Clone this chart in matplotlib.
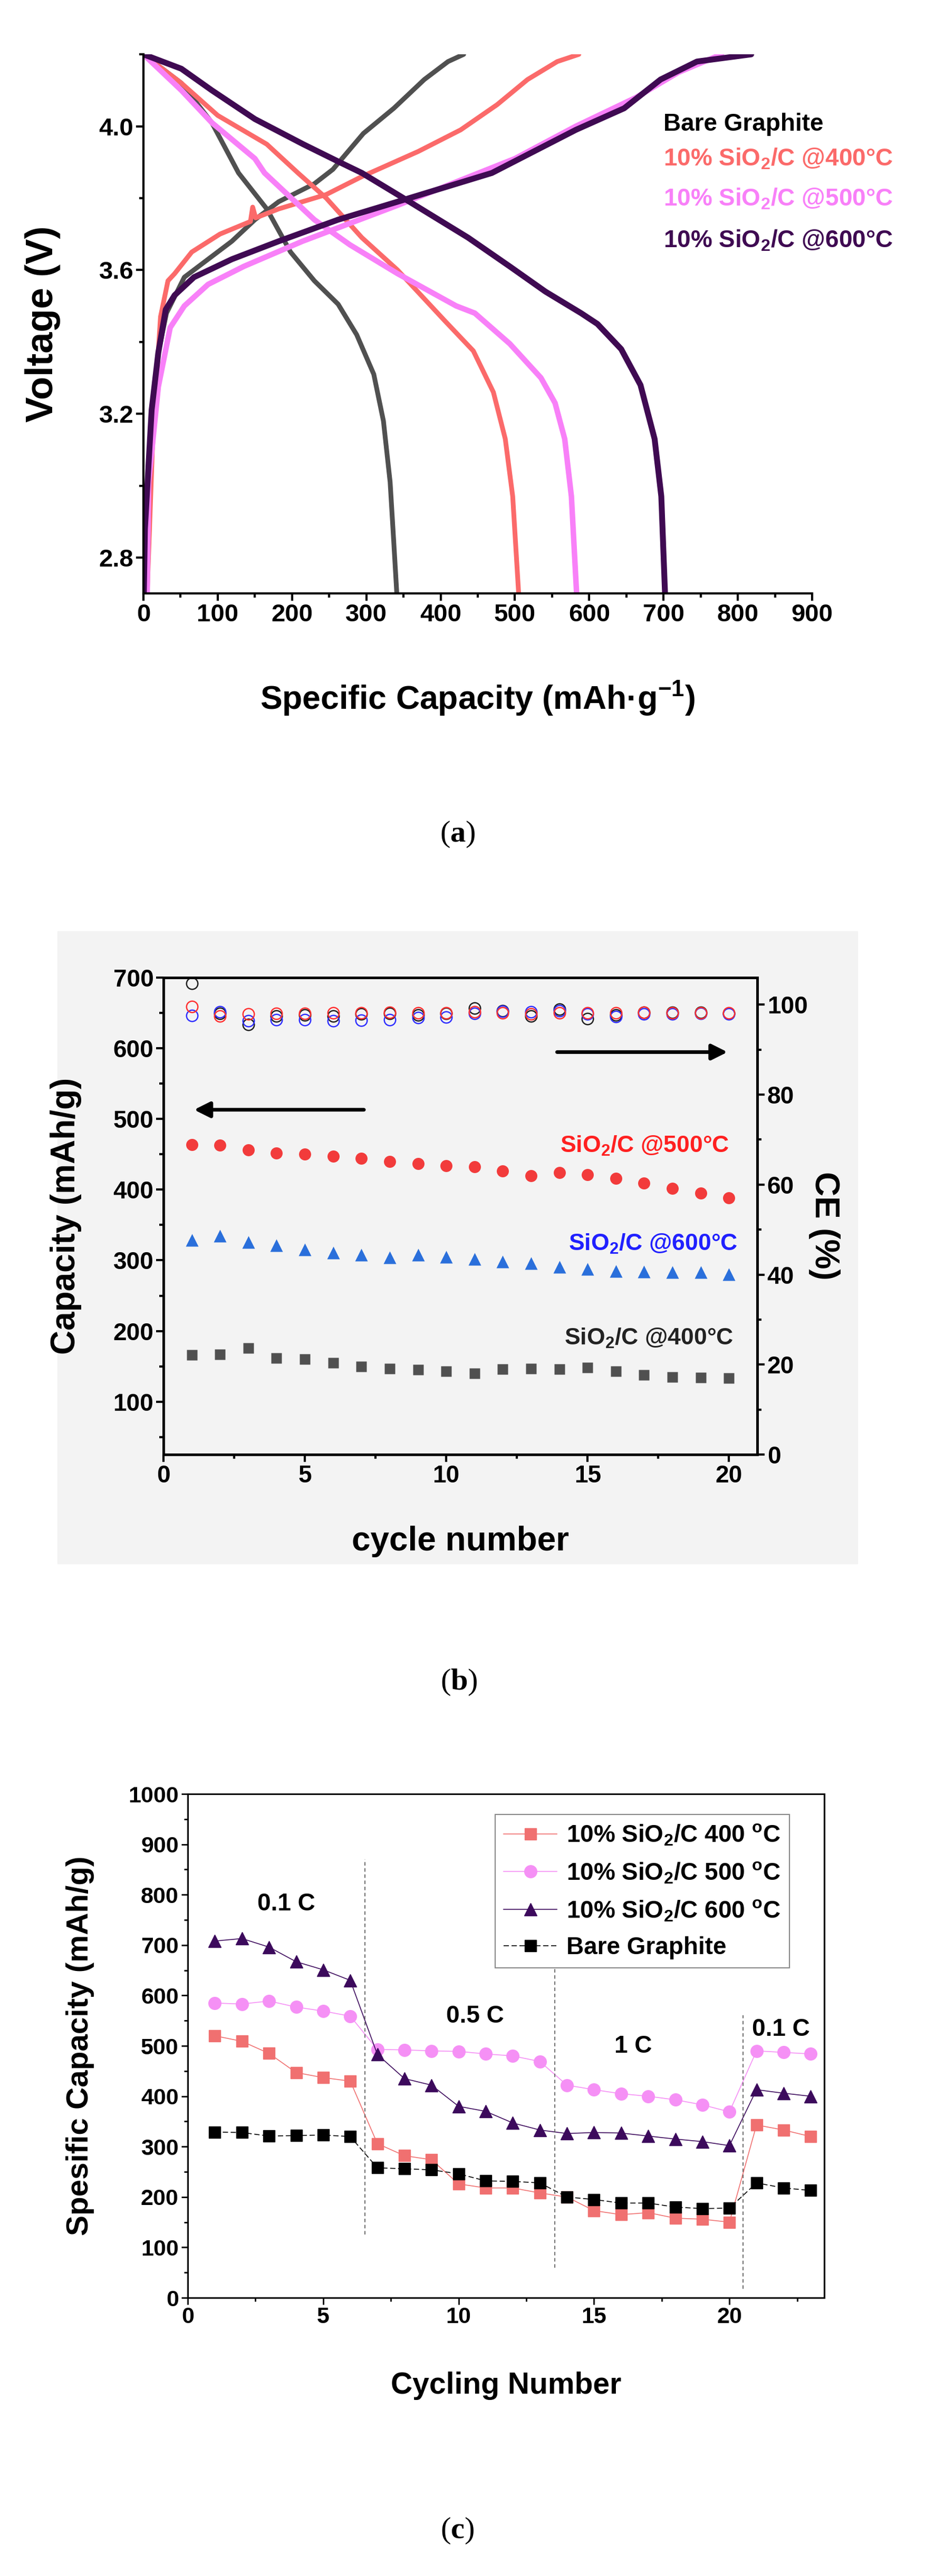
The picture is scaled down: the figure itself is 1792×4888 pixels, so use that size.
import numpy as np
import matplotlib.pyplot as plt
from matplotlib.ticker import MultipleLocator

plt.rcParams['font.family'] = ['Liberation Sans', 'DejaVu Sans']
plt.rcParams['font.weight'] = 'bold'
plt.rcParams['axes.labelweight'] = 'bold'
plt.rcParams['mathtext.default'] = 'regular'
plt.rcParams['mathtext.fontset'] = 'custom'
plt.rcParams['mathtext.bf'] = 'Liberation Serif:bold'

# ---------------- (a) charge / discharge profiles ----------------
gra_ch_cap = [3, 8, 20, 31, 55, 87, 119, 150, 182, 230, 255, 296, 337, 378, 410, 431]
gra_ch_v = [2.7, 3.1, 3.37, 3.48, 3.58, 3.63, 3.68, 3.74, 3.79, 3.84, 3.88, 3.98, 4.05, 4.13, 4.18, 4.2]
gra_dis_cap = [0, 51, 92, 128, 166, 198, 230, 262, 287, 310, 323, 332, 337, 341]
gra_dis_v = [4.2, 4.12, 4.01, 3.87, 3.77, 3.65, 3.57, 3.505, 3.42, 3.31, 3.18, 3.01, 2.84, 2.7]

s400_ch_cap = [5, 12, 17, 23, 33, 42, 65, 103, 144, 147, 151, 182, 246, 294, 370, 427, 476, 517, 557, 586]
s400_ch_v = [2.7, 3.1, 3.275, 3.47, 3.57, 3.59, 3.65, 3.70, 3.735, 3.775, 3.745, 3.77, 3.81, 3.86, 3.93,
             3.99, 4.06, 4.13, 4.18, 4.2]
s400_dis_cap = [0, 51, 100, 166, 208, 246, 294, 342, 405, 444, 471, 487, 497, 505]
s400_dis_v = [4.2, 4.12, 4.03, 3.95, 3.87, 3.80, 3.69, 3.60, 3.46, 3.375, 3.26, 3.13, 2.97, 2.7]

s500_ch_cap = [5, 7, 20, 36, 55, 87, 135, 214, 278, 342, 427, 500, 582, 663, 720, 778]
s500_ch_v = [2.7, 3.01, 3.275, 3.44, 3.50, 3.56, 3.61, 3.68, 3.73, 3.78, 3.85, 3.91, 4.0, 4.08, 4.15, 4.2]
s500_dis_cap = [0, 51, 92, 150, 163, 230, 278, 342, 421, 446, 493, 535, 554, 567, 576, 583]
s500_dis_v = [4.2, 4.10, 4.01, 3.91, 3.87, 3.74, 3.67, 3.59, 3.50, 3.48, 3.395, 3.30, 3.23, 3.13, 2.97, 2.7]

s600_ch_cap = [0.5, 2, 11, 20, 30, 42, 68, 119, 182, 262, 342, 469, 582, 647, 696, 745, 818]
s600_ch_v = [2.7, 2.88, 3.21, 3.37, 3.49, 3.53, 3.58, 3.63, 3.68, 3.74, 3.79, 3.87, 3.99, 4.05, 4.13, 4.18, 4.2]
s600_dis_cap = [0, 51, 92, 150, 215, 264, 294, 358, 437, 493, 541, 589, 611, 643, 669, 688, 697, 702]
s600_dis_v = [4.2, 4.16, 4.10, 4.02, 3.95, 3.90, 3.87, 3.79, 3.69, 3.61, 3.54, 3.48, 3.45, 3.38, 3.28, 3.13,
              2.97, 2.70]

labels_a = ['Bare Graphite', '10% SiO$_2$/C @400°C', '10% SiO$_2$/C @500°C', '10% SiO$_2$/C @600°C']
colors_a = ['#505050', '#fb6a6a', '#f880f8', '#3f0a52']
label_y_a = [4.005, 3.909, 3.798, 3.682]

# ---------------- (b) cycling + CE ----------------
cyc_b = np.arange(1, 21)
cap500_b = [464, 463, 456, 452, 450, 447, 444, 440, 437, 434, 432, 426, 420, 424, 421, 416, 409, 402, 395, 388]
cap600_b = [329, 335, 326, 321, 315, 311, 308, 304, 308, 305, 302, 298, 296, 291, 288, 285, 284, 283, 283, 280]
cap400_b = [166, 167, 176, 162, 160, 155, 150, 147, 145, 143, 140, 146, 147, 146, 148, 143, 138, 135, 134, 133]
ce_red = [99.6, 97.4, 97.9, 98.0, 98.0, 98.1, 98.2, 98.3, 98.2, 98.2, 98.4, 98.2, 97.9, 98.2, 98.2, 98.2, 98.3, 98.2, 98.1, 98.1]
ce_blue = [97.6, 98.4, 96.4, 96.6, 96.6, 96.4, 96.5, 96.6, 97.1, 97.2, 98.0, 98.5, 98.4, 98.6, 97.9, 97.3, 97.9, 97.9, 98.0, 97.9]
ce_black = [104.7, 98.0, 95.6, 97.4, 97.7, 97.4, 97.9, 98.0, 97.7, 98.0, 99.2, 98.6, 97.4, 99.0, 96.9, 97.7, 98.3, 98.3, 98.3, 98.0]

# ---------------- (c) rate capability ----------------
cyc_c = np.arange(1, 24)
rate400 = [520, 509, 485, 447, 437, 430, 306, 282, 274, 226, 218, 218, 208, 200, 173, 165, 169, 158, 156, 150, 343, 333, 320]
rate500 = [585, 583, 589, 577, 569, 559, 493, 492, 490, 489, 484, 480, 469, 422, 413, 405, 400, 393, 383, 369, 490, 487, 484]
rate600 = [708, 713, 696, 667, 651, 630, 483, 435, 422, 380, 370, 347, 333, 326, 328, 327, 321, 315, 310, 302, 413, 406, 400]
rate_gra = [329, 328, 321, 322, 323, 320, 258, 256, 254, 246, 232, 231, 228, 200, 195, 188, 188, 180, 177, 178, 228, 218, 213]
sep_x = [6.55, 13.55, 20.5]
sep_lo = [126, 60, 18]
sep_hi = [870, 727, 561]
rate_txt = ['0.1 C', '0.5 C', '1 C', '0.1 C']
rate_txt_x = [3.63, 10.6, 16.45, 21.9]
rate_txt_y = [781, 559, 499, 532]

fig = plt.figure(figsize=(17.92, 48.88), dpi=100)

# ======================= panel (a) =======================
ax = fig.add_axes([0.1518, 0.7696, 0.7076, 0.2093])
curves = [(gra_ch_cap, gra_ch_v, gra_dis_cap, gra_dis_v, 6.5),
          (s400_ch_cap, s400_ch_v, s400_dis_cap, s400_dis_v, 6.5),
          (s500_ch_cap, s500_ch_v, s500_dis_cap, s500_dis_v, 7.5),
          (s600_ch_cap, s600_ch_v, s600_dis_cap, s600_dis_v, 8)]
for (cc, cv, dc, dv, lw), col in zip(curves, colors_a):
    ax.plot(cc, cv, color=col, lw=lw, solid_capstyle='round', solid_joinstyle='round')
    ax.plot(dc, dv, color=col, lw=lw, solid_capstyle='round', solid_joinstyle='round')
for txt, col, yy in zip(labels_a, colors_a, label_y_a):
    ax.text(700, yy, txt, color=col if col != '#505050' else 'black', fontsize=33,
            va='center', ha='left')
ax.set_xlim(0, 900)
ax.set_ylim(2.7, 4.2)
ax.xaxis.set_major_locator(MultipleLocator(100))
ax.xaxis.set_minor_locator(MultipleLocator(50))
ax.set_yticks([2.8, 3.2, 3.6, 4.0])
ax.yaxis.set_minor_locator(MultipleLocator(0.2))
ax.spines['top'].set_visible(False)
ax.spines['right'].set_visible(False)
for s in ['left', 'bottom']:
    ax.spines[s].set_linewidth(3)
ax.tick_params(which='major', direction='out', length=10, width=3, labelsize=34)
ax.tick_params(which='minor', direction='out', length=6, width=3)
ax.set_xlabel('Specific Capacity (mAh·g$^{-1}$)', fontsize=45)
ax.set_ylabel('Voltage (V)', fontsize=52)
ax.xaxis.set_label_coords(0.5, -0.159)
ax.yaxis.set_label_coords(-0.124, 0.5)

fig.text(0.484, 0.676, r'($\mathbf{a}$)', family='Liberation Serif', weight='normal',
         fontsize=42, ha='center', va='center')

# ======================= panel (b) =======================
bg = plt.Rectangle((0.0608, 0.3930), 0.8465, 0.2455, transform=fig.transFigure,
                   color='#f3f3f3', zorder=-10)
fig.patches.append(bg)
axb = fig.add_axes([0.1730, 0.4353, 0.6283, 0.1852])
axb.patch.set_alpha(0)
axb.plot(cyc_b, cap500_b, 'o', color='#f23b3b', ms=16.5, mec='none')
axb.plot(cyc_b, cap600_b, '^', color='#2a6fdb', ms=17.5, mec='none')
axb.plot(cyc_b, cap400_b, 's', color='#505050', ms=15, mec='none')
axb.set_xlim(0, 21)
axb.set_ylim(25, 700)
axb.xaxis.set_major_locator(MultipleLocator(5))
axb.xaxis.set_minor_locator(MultipleLocator(2.5))
axb.set_yticks([100, 200, 300, 400, 500, 600, 700])
axb.yaxis.set_minor_locator(MultipleLocator(50))
for s in axb.spines.values():
    s.set_linewidth(3.5)
axb.tick_params(which='major', direction='out', length=10, width=3, labelsize=33)
axb.tick_params(which='minor', direction='out', length=6, width=3)
axb.set_xlabel('cycle number', fontsize=46)
axb.set_ylabel('Capacity (mAh/g)', fontsize=46)
axb.xaxis.set_label_coords(0.5, -0.149)
axb.yaxis.set_label_coords(-0.138, 0.5)
axb.text(20.0, 462, 'SiO$_2$/C @500°C', color='#ff2020', fontsize=32, ha='right', va='center')
axb.text(20.3, 323, 'SiO$_2$/C @600°C', color='#2020ff', fontsize=32, ha='right', va='center')
axb.text(20.15, 190, 'SiO$_2$/C @400°C', color='#222222', fontsize=32, ha='right', va='center')
axb.annotate('', xy=(1.03, 513), xytext=(7.14, 513),
             arrowprops=dict(arrowstyle='-|>', lw=5, color='black', mutation_scale=45))
axb.annotate('', xy=(20.0, 594.6), xytext=(13.87, 594.6),
             arrowprops=dict(arrowstyle='-|>', lw=5, color='black', mutation_scale=45))

axb2 = axb.twinx()
axb2.plot(cyc_b, ce_black, 'o', mfc='none', mec='#202020', ms=15.5, mew=1.8)
axb2.plot(cyc_b, ce_blue, 'o', mfc='none', mec='#3030ff', ms=15.5, mew=1.8)
axb2.plot(cyc_b, ce_red, 'o', mfc='none', mec='#ff3030', ms=15.5, mew=1.8)
axb2.set_ylim(0, 106)
axb2.yaxis.set_major_locator(MultipleLocator(20))
axb2.yaxis.set_minor_locator(MultipleLocator(10))
for s in axb2.spines.values():
    s.set_linewidth(3.5)
axb2.tick_params(which='major', direction='out', length=10, width=3, labelsize=33)
axb2.tick_params(which='minor', direction='out', length=6, width=3)
axb2.set_ylabel('CE (%)', fontsize=46, rotation=270, va='center')
axb2.yaxis.set_label_coords(1.113, 0.48)

fig.text(0.4855, 0.347, r'($\mathbf{b}$)', family='Liberation Serif', weight='normal',
         fontsize=42, ha='center', va='center')

# ======================= panel (c) =======================
axc = fig.add_axes([0.1987, 0.1080, 0.6735, 0.1956])
axc.plot(cyc_c, rate400, '-s', color='#f07070', ms=16, lw=1.2, mec='#f07070',
         label='10% SiO$_2$/C 400 $^o$C')
axc.plot(cyc_c, rate500, '-o', color='#f590f5', ms=17, lw=1.2, mec='#f590f5',
         label='10% SiO$_2$/C 500 $^o$C')
axc.plot(cyc_c, rate600, '-^', color='#3c0a5c', ms=17, lw=1.2, mec='#3c0a5c',
         label='10% SiO$_2$/C 600 $^o$C')
axc.plot(cyc_c, rate_gra, 's', color='black', ms=16, ls=(0, (6, 3)), lw=1.2,
         label='Bare Graphite')
axc.vlines(sep_x, sep_lo, sep_hi, colors='#555555', linestyles=(0, (4, 3)), lw=1.2)
for t, xx, yy in zip(rate_txt, rate_txt_x, rate_txt_y):
    axc.text(xx, yy, t, fontsize=33, ha='center', va='center')
axc.set_xlim(0, 23.5)
axc.set_ylim(0, 1000)
axc.xaxis.set_major_locator(MultipleLocator(5))
axc.xaxis.set_minor_locator(MultipleLocator(2.5))
axc.yaxis.set_major_locator(MultipleLocator(100))
axc.yaxis.set_minor_locator(MultipleLocator(50))
for s in axc.spines.values():
    s.set_linewidth(2.2)
axc.tick_params(which='major', direction='out', length=9, width=2, labelsize=31)
axc.tick_params(which='minor', direction='out', length=5, width=2)
axc.set_xlabel('Cycling Number', fontsize=41)
axc.set_ylabel('Spesific Capacity (mAh/g)', fontsize=42)
axc.xaxis.set_label_coords(0.5, -0.146)
axc.yaxis.set_label_coords(-0.147, 0.5)
leg = axc.legend(loc='upper right', bbox_to_anchor=(0.964, 0.983), fontsize=33,
                 frameon=True, fancybox=False, edgecolor='#888888', framealpha=1,
                 handlelength=2.2, labelspacing=0.55, borderpad=0.35, handletextpad=0.4)
leg.get_frame().set_linewidth(1.5)

fig.text(0.484, 0.0176, r'($\mathbf{c}$)', family='Liberation Serif', weight='normal',
         fontsize=42, ha='center', va='center')

fig.savefig('out.png', dpi=100)
